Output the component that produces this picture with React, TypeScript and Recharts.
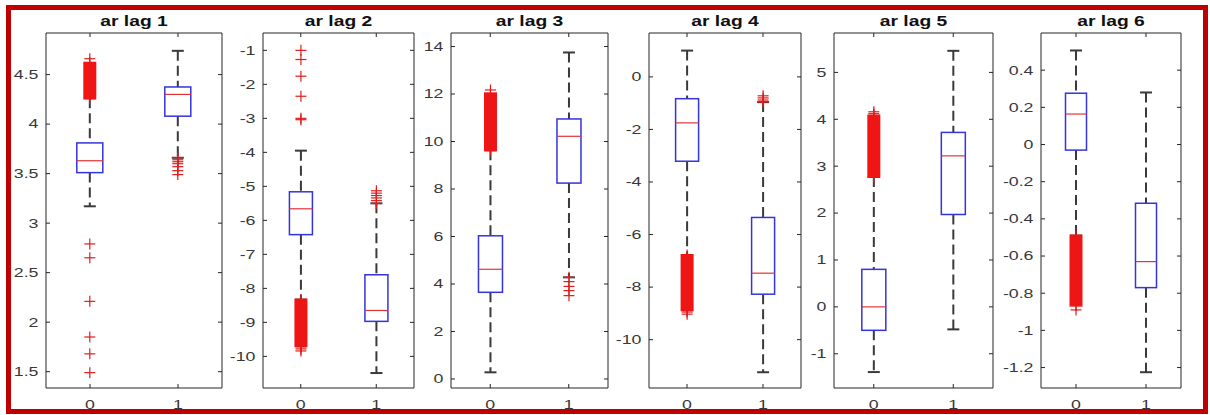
import React from 'react'
import { ComposedChart, Bar, XAxis, YAxis } from 'recharts'

type Group = {
  lo: number
  q1: number
  med: number
  q3: number
  hi: number
  bands?: [number, number][]
  outliers?: number[]
}

const groupNames = ['0', '1']
const titles = ['ar lag 1', 'ar lag 2', 'ar lag 3', 'ar lag 4', 'ar lag 5', 'ar lag 6']

// five-number summaries per group; bands are runs of outliers packed so tightly they merge
const lag1: Group[] = [
  { lo: 3.17, q1: 3.51, med: 3.63, q3: 3.81, hi: 4.26, bands: [[4.26, 4.62]], outliers: [4.66, 2.79, 2.65, 2.21, 1.85, 1.68, 1.49] },
  { lo: 3.66, q1: 4.08, med: 4.3, q3: 4.375, hi: 4.74, outliers: [3.66, 3.64, 3.62, 3.6, 3.57, 3.53, 3.49] }
]
const lag2: Group[] = [
  { lo: -8.33, q1: -6.42, med: -5.66, q3: -5.16, hi: -3.95, bands: [[-9.7, -8.33]], outliers: [-1.0, -1.27, -1.76, -2.35, -3.0, -3.04, -9.72, -9.78, -9.84] },
  { lo: -10.49, q1: -8.97, med: -8.65, q3: -7.6, hi: -5.5, outliers: [-5.13, -5.2, -5.27, -5.34, -5.42, -5.5] }
]
const lag3: Group[] = [
  { lo: 0.28, q1: 3.65, med: 4.62, q3: 6.03, hi: 9.63, bands: [[9.63, 12.03]], outliers: [12.17] },
  { lo: 4.28, q1: 8.25, med: 10.22, q3: 10.95, hi: 13.75, outliers: [4.28, 4.1, 3.9, 3.72, 3.51] }
]
const lag4: Group[] = [
  { lo: -6.78, q1: -3.21, med: -1.75, q3: -0.83, hi: 1.0, bands: [[-8.88, -6.78]], outliers: [-8.95, -9.03] },
  { lo: -11.24, q1: -8.27, med: -7.47, q3: -5.35, hi: -0.96, outliers: [-0.72, -0.8, -0.88, -0.96] }
]
const lag5: Group[] = [
  { lo: -1.39, q1: -0.5, med: 0.0, q3: 0.8, hi: 2.77, bands: [[2.77, 4.08]], outliers: [4.12, 4.16] },
  { lo: -0.48, q1: 1.97, med: 3.22, q3: 3.72, hi: 5.46 }
]
const lag6: Group[] = [
  { lo: -0.49, q1: -0.03, med: 0.164, q3: 0.276, hi: 0.506, bands: [[-0.867, -0.49]], outliers: [-0.89] },
  { lo: -1.225, q1: -0.77, med: -0.63, q3: -0.316, hi: 0.28 }
]
const lags = [lag1, lag2, lag3, lag4, lag5, lag6]

const yDomains: [number, number][] = [
  [1.335, 4.92],
  [-10.93, -0.49],
  [-0.38, 14.57],
  [-11.84, 1.67],
  [-1.73, 5.84],
  [-1.31, 0.6]
]
const yTicks: number[][] = [
  [1.5, 2, 2.5, 3, 3.5, 4, 4.5],
  [-10, -9, -8, -7, -6, -5, -4, -3, -2, -1],
  [0, 2, 4, 6, 8, 10, 12, 14],
  [-10, -8, -6, -4, -2, 0],
  [-1, 0, 1, 2, 3, 4, 5],
  [-1.2, -1, -0.8, -0.6, -0.4, -0.2, 0, 0.2, 0.4]
]

// layout of the six plot boxes
const plotLeft = [46, 263, 451, 649, 834, 1041]
const plotWidth = [176, 151, 157, 152, 159, 140]
const Y_W = 40
const AXIS = '#262626'
const FONT = '"Liberation Sans", Arial, Helvetica, sans-serif'
const SX = 1.42

const YTick = ({ x, y, payload }: any) => (
  <g transform={`translate(${x},${y}) scale(${SX},1)`}>
    <text textAnchor="end" dy="0.35em" fontSize={12.5} fill="#383838" fontFamily={FONT}>
      {payload.value}
    </text>
  </g>
)

const XTick = ({ x, y, payload }: any) => (
  <g transform={`translate(${x},${y}) scale(${SX},1)`}>
    <text textAnchor="middle" dy="0.71em" fontSize={12.5} fill="#383838" fontFamily={FONT}>
      {payload.value}
    </text>
  </g>
)

const NoTick = () => <g />

const Plus = ({ cx, cy }: { cx: number; cy: number }) => (
  <g stroke="#e01c1c" strokeWidth={1.2}>
    <line x1={cx - 5.5} x2={cx + 5.5} y1={cy} y2={cy} />
    <line x1={cx} x2={cx} y1={cy - 5.5} y2={cy + 5.5} />
  </g>
)

// the bar spans lo..hi, so its rectangle gives the pixel scale for the rest of the box
const BoxShape = (props: any) => {
  const { x, y, width, height, payload } = props
  const s: Group = payload
  const k = height / (s.hi - s.lo)
  const py = (v: number) => y + (s.hi - v) * k
  const cx = x + width / 2
  const cap = 6
  return (
    <g>
      <g stroke="#3a3a3a" strokeWidth={2} fill="none">
        <line x1={cx} x2={cx} y1={py(s.hi)} y2={py(s.q3)} strokeDasharray="10 5" />
        <line x1={cx} x2={cx} y1={py(s.q1)} y2={py(s.lo)} strokeDasharray="10 5" />
        <line x1={cx - cap} x2={cx + cap} y1={py(s.hi)} y2={py(s.hi)} />
        <line x1={cx - cap} x2={cx + cap} y1={py(s.lo)} y2={py(s.lo)} />
      </g>
      <rect x={x} y={py(s.q3)} width={width} height={py(s.q1) - py(s.q3)} fill="none" stroke="#3434de" strokeWidth={1.5} />
      <line x1={x} x2={x + width} y1={py(s.med)} y2={py(s.med)} stroke="#e03434" strokeWidth={1.2} />
      {(s.bands || []).map(([a, b], i) => (
        <g key={'b' + i}>
          <rect x={cx - 6.5} y={py(b) - 1} width={13} height={py(a) - py(b) + 2} fill="#f01414" />
          <line x1={cx} x2={cx} y1={py(b) - 5.5} y2={py(a) + 5.5} stroke="#e01c1c" strokeWidth={1.2} />
        </g>
      ))}
      {(s.outliers || []).map((v, i) => (
        <Plus key={'o' + i} cx={cx} cy={py(v)} />
      ))}
    </g>
  )
}

const Panel = ({ idx }: { idx: number }) => {
  const rows = groupNames.map((name, i) => ({
    name,
    ...lags[idx][i],
    span: [lags[idx][i].lo, lags[idx][i].hi]
  }))
  return (
    <div style={{ position: 'absolute', left: plotLeft[idx] - Y_W, top: 0 }}>
      <ComposedChart
        width={Y_W + plotWidth[idx] + 3}
        height={415}
        data={rows}
        margin={{ top: 32, right: 2, bottom: 0, left: 0 }}
        barCategoryGap="35%"
      >
        <XAxis
          xAxisId="b"
          dataKey="name"
          height={27}
          interval={0}
          tickSize={-4}
          tickMargin={16}
          tick={XTick}
          axisLine={{ stroke: AXIS }}
          tickLine={{ stroke: AXIS }}
        />
        <XAxis
          xAxisId="t"
          orientation="top"
          dataKey="name"
          height={1}
          interval={0}
          tickSize={-4}
          tick={NoTick}
          axisLine={{ stroke: AXIS }}
          tickLine={{ stroke: AXIS }}
        />
        <YAxis
          yAxisId="l"
          type="number"
          domain={yDomains[idx]}
          ticks={yTicks[idx]}
          allowDataOverflow
          width={Y_W}
          tickSize={-4}
          tickMargin={11.5}
          tick={YTick}
          axisLine={{ stroke: AXIS }}
          tickLine={{ stroke: AXIS }}
        />
        <YAxis
          yAxisId="r"
          orientation="right"
          type="number"
          domain={yDomains[idx]}
          ticks={yTicks[idx]}
          allowDataOverflow
          width={1}
          tickSize={-4}
          tick={NoTick}
          axisLine={{ stroke: AXIS }}
          tickLine={{ stroke: AXIS }}
        />
        <Bar xAxisId="b" yAxisId="l" dataKey="span" shape={BoxShape} isAnimationActive={false} />
      </ComposedChart>
    </div>
  )
}

export default function App() {
  return (
    <div style={{ position: 'absolute', left: 0, top: 0, width: 1210, height: 415, background: '#fff' }}>
      {titles.map((_, i) => (
        <Panel key={i} idx={i} />
      ))}
      <svg width={1210} height={415} style={{ position: 'absolute', left: 0, top: 0, pointerEvents: 'none' }}>
        {titles.map((t, i) => (
          <g key={t} transform={`translate(${plotLeft[i] + plotWidth[i] / 2},26) scale(1.33,1)`}>
            <text textAnchor="middle" fontSize={14.5} fontWeight="bold" fill="#111" fontFamily={FONT}>
              {t}
            </text>
          </g>
        ))}
        <rect x={8.5} y={7.5} width={1197} height={404} fill="none" stroke="#c00000" strokeWidth={5} />
      </svg>
    </div>
  )
}
